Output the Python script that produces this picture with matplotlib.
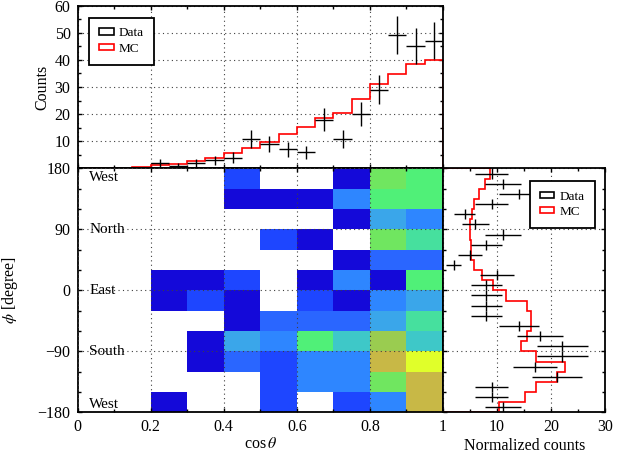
import numpy as np
import matplotlib
matplotlib.use("Agg")
import matplotlib.pyplot as plt
from matplotlib.colors import ListedColormap, BoundaryNorm
from matplotlib.patches import Patch
from matplotlib.ticker import MultipleLocator, FuncFormatter

plt.rcParams["font.family"] = ["Liberation Serif", "DejaVu Serif"]
plt.rcParams["mathtext.fontset"] = "stix"

# cos(theta) projection: 20 bins of 0.05
cos_edges = np.linspace(0, 1, 21)
cos_data = [0, 0, 0, 0, 2, 1, 2, 3, 4, 11, 9, 7, 6, 18, 11, 20, 29, 49, 45, 47]
cos_mc = [0, 0, 0.2, 0.5, 1.4, 1.7, 2.6, 4.0, 5.7, 7.6,
          9.9, 12.6, 15.1, 18.5, 20.3, 25.4, 31.0, 34.8, 38.4, 40.0]

# phi projection: 24 bins of 15 degrees, from -180 upwards
phi_edges = np.linspace(-180, 180, 25)
phi_data = [11, 9, 9, 21, 17, 22, 22, 18, 14, 8, 8, 8,
            8, 10, 2, 5, 8, 11, 6, 4, 9, 14, 11, 9]
phi_mc = [10.4, 15.2, 17.2, 21.0, 22.6, 17.2, 14.4, 15.6, 16.2, 16.2, 15.6, 11.7,
          9.3, 7.2, 5.8, 5.2, 5.1, 5.0, 5.0, 5.3, 5.8, 6.6, 7.8, 8.6]

# 2D counts: 10 cos bins x 12 phi bins (rows from -180 upwards)
map_x_edges = np.linspace(0, 1, 11)
map_y_edges = np.linspace(-180, 180, 13)
map_counts = [
    [0, 0, 1, 0, 0, 2, 0, 2, 4, 11],
    [0, 0, 0, 0, 0, 2, 4, 4, 9, 11],
    [0, 0, 0, 1, 3, 2, 4, 4, 11, 12],
    [0, 0, 0, 1, 5, 4, 8, 6, 10, 6],
    [0, 0, 0, 0, 1, 3, 3, 3, 5, 7],
    [0, 0, 1, 2, 1, 0, 2, 1, 4, 5],
    [0, 0, 1, 1, 2, 0, 1, 4, 1, 8],
    [0, 0, 0, 0, 0, 0, 0, 1, 3, 3],
    [0, 0, 0, 0, 0, 2, 1, 0, 9, 7],
    [0, 0, 0, 0, 0, 0, 0, 1, 5, 4],
    [0, 0, 0, 0, 1, 1, 1, 4, 8, 8],
    [0, 0, 0, 0, 2, 0, 0, 1, 9, 8],
]
directions = ["West", "North", "East", "South", "West"]
direction_phi = [167, 90, 0, -90, -168]

palette = ["#1409d9", "#1e46ff", "#2a66ff", "#2e86ff", "#3aa6ea", "#3ec8c8",
           "#46e09e", "#50f078", "#70e660", "#9acc50", "#c8b846", "#e0ff2a"]

GRID = dict(color="#404040", linestyle=(0, (1, 3)), linewidth=0.8)


def style(ax):
    for s in ax.spines.values():
        s.set_linewidth(1.3)
    ax.tick_params(which="both", direction="in", top=True, right=True,
                   width=1.0, labelsize=11.5, pad=5)
    ax.tick_params(which="major", length=3.2)
    ax.tick_params(which="minor", length=2.4)


def legend(ax, anchor):
    handles = [Patch(facecolor="white", edgecolor="black", lw=1.2, label="Data"),
               Patch(facecolor="white", edgecolor="red", lw=1.2, label="MC")]
    leg = ax.legend(handles=handles, loc="upper left", bbox_to_anchor=anchor,
                    borderaxespad=0, fontsize=9.5, handlelength=1.1, handleheight=0.4,
                    handletextpad=0.4, labelspacing=0.25, borderpad=0.75,
                    fancybox=False, framealpha=1)
    leg.get_frame().set_edgecolor("black")
    leg.get_frame().set_linewidth(1.3)


fig = plt.figure(figsize=(6.37, 4.59), dpi=100)
ax_t = fig.add_axes([0.1217, 0.6329, 0.5738, 0.3551])
ax_m = fig.add_axes([0.1217, 0.1017, 0.5738, 0.5312])
ax_r = fig.add_axes([0.6954, 0.1017, 0.2551, 0.5312])

# top: cos theta
centers = 0.5 * (cos_edges[:-1] + cos_edges[1:])
cd = np.array(cos_data, dtype=float)
sel = cd > 0
ax_t.stairs(cos_mc, cos_edges, color="red", lw=1.2, baseline=0, zorder=2)
ax_t.errorbar(centers[sel], cd[sel], xerr=0.025, yerr=np.sqrt(cd[sel]), fmt="none",
              ecolor="black", elinewidth=1.0, capsize=0, zorder=3)
ax_t.set_xlim(0, 1)
ax_t.set_ylim(0, 60)
ax_t.xaxis.set_major_locator(MultipleLocator(0.2))
ax_t.xaxis.set_minor_locator(MultipleLocator(0.1))
ax_t.yaxis.set_major_locator(MultipleLocator(10))
ax_t.yaxis.set_minor_locator(MultipleLocator(5))
ax_t.yaxis.set_major_formatter(FuncFormatter(lambda v, p: "" if v == 0 else f"{v:g}"))
ax_t.tick_params(labelbottom=False)
ax_t.grid(True, **GRID)
ax_t.set_ylabel("Counts", fontsize=11.5)
ax_t.yaxis.set_label_coords(-0.075, 0.5)
style(ax_t)
legend(ax_t, (0.032, 0.926))

# main: 2D map
counts = np.ma.masked_equal(np.array(map_counts), 0)
cmap = ListedColormap(palette)
norm = BoundaryNorm(np.arange(0.5, len(palette) + 1), len(palette))
ax_m.pcolormesh(map_x_edges, map_y_edges, counts, cmap=cmap, norm=norm, zorder=1)
ax_m.set_xlim(0, 1)
ax_m.set_ylim(-180, 180)
ax_m.xaxis.set_major_locator(MultipleLocator(0.2))
ax_m.xaxis.set_minor_locator(MultipleLocator(0.1))
ax_m.xaxis.set_major_formatter(FuncFormatter(lambda v, p: f"{v:g}"))
ax_m.yaxis.set_major_locator(MultipleLocator(90))
ax_m.yaxis.set_minor_locator(MultipleLocator(30))
ax_m.set_axisbelow(False)
ax_m.grid(True, **GRID)
for name, phi in zip(directions, direction_phi):
    ax_m.text(0.032, phi, name, fontsize=11, va="center", ha="left", zorder=4)
ax_m.set_xlabel(r"cos$\,\theta$", fontsize=11.5)
ax_m.xaxis.set_label_coords(0.5, -0.098)
ax_m.set_ylabel(r"$\phi$ [degree]", fontsize=11.5)
ax_m.yaxis.set_label_coords(-0.157, 0.5)
style(ax_m)
ax_m.tick_params(which="both", right=False)

# right: phi
pc = 0.5 * (phi_edges[:-1] + phi_edges[1:])
pd_ = np.array(phi_data, dtype=float)
ax_r.stairs(phi_mc, phi_edges, orientation="horizontal", color="red", lw=1.2,
            baseline=0, zorder=2)
ax_r.errorbar(pd_, pc, xerr=np.sqrt(pd_), yerr=7.5, fmt="none", ecolor="black",
              elinewidth=1.0, capsize=0, zorder=3)
ax_r.set_xlim(0, 30)
ax_r.set_ylim(-180, 180)
ax_r.xaxis.set_major_locator(MultipleLocator(10))
ax_r.xaxis.set_minor_locator(MultipleLocator(5))
ax_r.xaxis.set_major_formatter(FuncFormatter(lambda v, p: "" if v == 0 else f"{v:g}"))
ax_r.yaxis.set_major_locator(MultipleLocator(90))
ax_r.yaxis.set_minor_locator(MultipleLocator(30))
ax_r.tick_params(labelleft=False)
ax_r.grid(True, **GRID)
ax_r.set_xlabel("Normalized counts", fontsize=11.5)
ax_r.xaxis.set_label_coords(0.5, -0.105)
style(ax_r)
legend(ax_r, (0.535, 0.95))

fig.savefig("out.png", dpi=100)
